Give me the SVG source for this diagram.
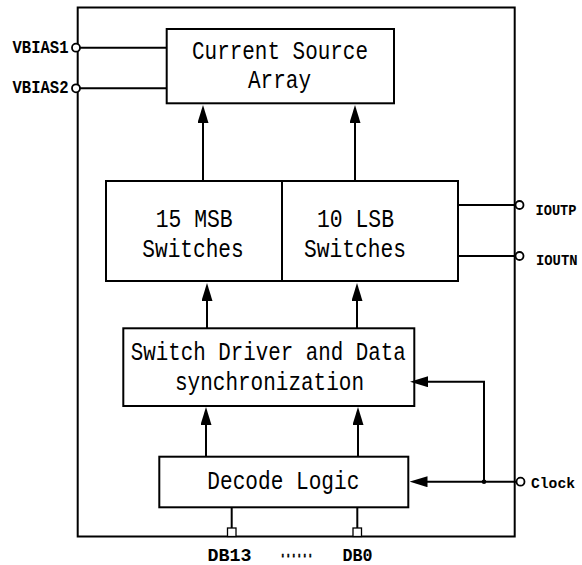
<svg xmlns="http://www.w3.org/2000/svg" width="582" height="565" viewBox="0 0 582 565">
  <style>
    .box { fill: #fff; stroke: #000; stroke-width: 2; }
    .wire { fill: none; stroke: #000; stroke-width: 2; }
    .pin { fill: #fff; stroke: #000; stroke-width: 1.8; }
    .lbl { font-family: "Liberation Mono", "DejaVu Sans Mono", monospace; font-size: 26px; fill: #000; }
    .sm { font-family: "Liberation Mono", "DejaVu Sans Mono", monospace; font-size: 18px; font-weight: bold; fill: #000; }
    .sm.r { font-size: 15.5px; }
  </style>
  <defs>
    <marker id="arr" viewBox="0 0 18 11" refX="2" refY="5.5" markerWidth="18" markerHeight="11" markerUnits="userSpaceOnUse" orient="auto">
      <path d="M0,0 L18,5.5 L0,11 Z" fill="#000"/>
    </marker>
  </defs>

  <!-- chip outline -->
  <rect id="chip" x="77.7" y="7.5" width="437" height="529" fill="#fff" stroke="#000" stroke-width="2"/>

  <g id="current-source">
    <rect class="box" x="166.7" y="29" width="227.3" height="74.3"/>
    <text class="lbl" x="192" y="59" textLength="176" lengthAdjust="spacingAndGlyphs">Current Source</text>
    <text class="lbl" x="248" y="88" textLength="63" lengthAdjust="spacingAndGlyphs">Array</text>
  </g>

  <g id="msb-switches">
    <rect class="box" x="106" y="181" width="176" height="100"/>
    <text class="lbl" x="155.7" y="226.7" textLength="77" lengthAdjust="spacingAndGlyphs">15 MSB</text>
    <text class="lbl" x="142.3" y="257.3" textLength="101.4" lengthAdjust="spacingAndGlyphs">Switches</text>
  </g>

  <g id="lsb-switches">
    <rect class="box" x="282" y="181" width="176" height="100"/>
    <text class="lbl" x="317" y="226.7" textLength="77" lengthAdjust="spacingAndGlyphs">10 LSB</text>
    <text class="lbl" x="304" y="257.3" textLength="102" lengthAdjust="spacingAndGlyphs">Switches</text>
  </g>

  <g id="switch-driver">
    <rect class="box" x="123.3" y="328.3" width="291" height="77.7"/>
    <text class="lbl" x="130.7" y="360" textLength="275" lengthAdjust="spacingAndGlyphs">Switch Driver and Data</text>
    <text class="lbl" x="175" y="390" textLength="189" lengthAdjust="spacingAndGlyphs">synchronization</text>
  </g>

  <g id="decode-logic">
    <rect class="box" x="159.3" y="456.7" width="249" height="50.6"/>
    <text class="lbl" x="207.3" y="489.3" textLength="152" lengthAdjust="spacingAndGlyphs">Decode Logic</text>
  </g>

  <g id="connectors">
    <!-- switches to current source -->
    <line class="wire" x1="203" y1="181" x2="203" y2="121" marker-end="url(#arr)"/>
    <line class="wire" x1="355" y1="181" x2="355" y2="121" marker-end="url(#arr)"/>
    <!-- driver to switches -->
    <line class="wire" x1="207" y1="328.3" x2="207" y2="299" marker-end="url(#arr)"/>
    <line class="wire" x1="357" y1="328.3" x2="357" y2="299" marker-end="url(#arr)"/>
    <!-- decoder to driver -->
    <line class="wire" x1="206" y1="456.7" x2="206" y2="423" marker-end="url(#arr)"/>
    <line class="wire" x1="358" y1="456.7" x2="358" y2="423" marker-end="url(#arr)"/>
    <!-- bias inputs -->
    <line class="wire" x1="80" y1="47.7" x2="166.7" y2="47.7"/>
    <line class="wire" x1="80" y1="88.3" x2="166.7" y2="88.3"/>
    <!-- differential outputs -->
    <line class="wire" x1="458" y1="205" x2="515.5" y2="205"/>
    <line class="wire" x1="458" y1="256" x2="515.5" y2="256"/>
    <!-- clock distribution -->
    <line class="wire" x1="516.5" y1="481.7" x2="425.5" y2="481.7" marker-end="url(#arr)"/>
    <polyline class="wire" points="484,481.7 484,381.7 426,381.7" marker-end="url(#arr)"/>
    <circle cx="484" cy="481.7" r="2.3" fill="#000"/>
    <!-- data bus pins -->
    <line class="wire" x1="231.7" y1="507.3" x2="231.7" y2="528"/>
    <line class="wire" x1="357.3" y1="507.3" x2="357.3" y2="528"/>
  </g>

  <g id="pins">
    <circle class="pin" cx="76" cy="47.7" r="4"/>
    <circle class="pin" cx="76" cy="88.3" r="4"/>
    <circle class="pin" cx="519.5" cy="205" r="4"/>
    <circle class="pin" cx="519.5" cy="256" r="4"/>
    <circle class="pin" cx="520.5" cy="481.7" r="4"/>
    <rect x="227.5" y="528" width="8.5" height="8.5" fill="#fff" stroke="#000" stroke-width="1.3"/>
    <rect x="353" y="528" width="8.5" height="8.5" fill="#fff" stroke="#000" stroke-width="1.3"/>
  </g>

  <g id="pin-labels">
    <text class="sm" x="12.5" y="52.7" textLength="56" lengthAdjust="spacingAndGlyphs">VBIAS1</text>
    <text class="sm" x="12.5" y="92.7" textLength="56" lengthAdjust="spacingAndGlyphs">VBIAS2</text>
    <text class="sm r" x="535.5" y="214.5" textLength="41" lengthAdjust="spacingAndGlyphs">IOUTP</text>
    <text class="sm r" x="536" y="265" textLength="41.5" lengthAdjust="spacingAndGlyphs">IOUTN</text>
    <text class="sm r" x="531" y="488" textLength="44" lengthAdjust="spacingAndGlyphs">Clock</text>
    <text class="sm" x="207.5" y="560.5" textLength="44" lengthAdjust="spacingAndGlyphs">DB13</text>
    <text class="sm" x="280" y="560.5" textLength="33" lengthAdjust="spacingAndGlyphs" stroke="#000" stroke-width="0.8">······</text>
    <text class="sm" x="342.5" y="560.5" textLength="30" lengthAdjust="spacingAndGlyphs">DB0</text>
  </g>
</svg>
